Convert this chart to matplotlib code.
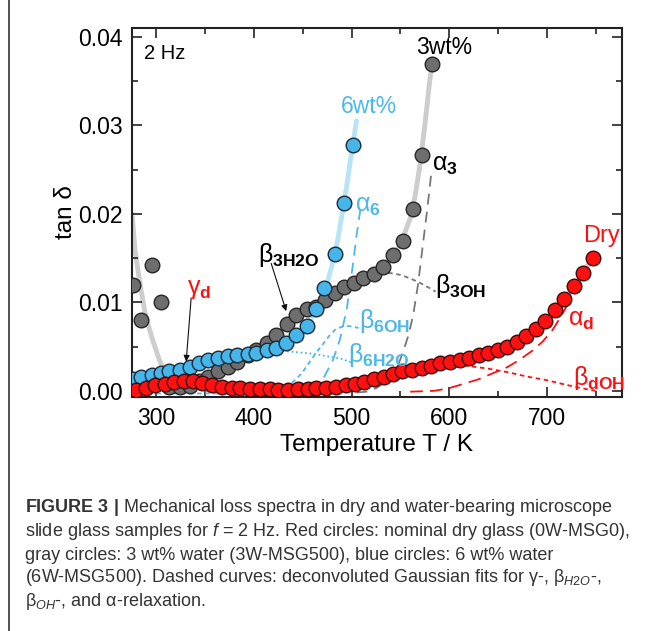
import matplotlib
matplotlib.use('Agg')
import matplotlib.pyplot as plt

plt.rcParams['font.family'] = ['Liberation Sans', 'DejaVu Sans']
plt.rcParams['mathtext.fontset'] = 'custom'
plt.rcParams['mathtext.rm'] = 'Liberation Sans'
plt.rcParams['mathtext.it'] = 'Liberation Sans:italic'
plt.rcParams['mathtext.bf'] = 'Liberation Sans:bold'

# ---- measured points (tan delta) ----
T_dry = [279, 289, 299, 309, 318, 328, 338, 347, 357, 367, 377, 386, 396, 406,
         416, 425, 435, 445, 455, 464, 474, 484, 494, 503, 513, 523, 533, 542,
         552, 562, 572, 581, 591, 601, 611, 620, 630, 640, 650, 659, 669, 679,
         689, 698, 708, 718, 728, 737, 747]
tan_dry = [0.0001, 0.0003, 0.0006, 0.0008, 0.0010, 0.0011, 0.0011, 0.0009,
           0.0006, 0.00045, 0.00035, 0.0003, 0.00025, 0.0002, 0.00015, 0.0001,
           0.0001, 0.00015, 0.0002, 0.0003, 0.0003, 0.0004, 0.0006, 0.0008,
           0.0010, 0.0013, 0.0016, 0.0019, 0.0022, 0.0024, 0.0026, 0.0028,
           0.0031, 0.0033, 0.0035, 0.0037, 0.0040, 0.0043, 0.0046, 0.0050,
           0.0055, 0.0062, 0.0070, 0.0079, 0.0091, 0.0104, 0.0118, 0.0133,
           0.0150]

T_3w = [276, 284, 295, 305, 313, 324, 334, 344, 353, 363, 373, 383, 394, 402,
        413, 423, 434, 443, 454, 464, 473, 483, 492, 502, 512, 523, 532, 542,
        553, 563, 572, 582]
tan_3w = [0.0120, 0.0080, 0.0142, 0.0100, 0.0004, 0.0004, 0.0005, 0.0011,
          0.0016, 0.0022, 0.0027, 0.0033, 0.0041, 0.0046, 0.0054, 0.0063,
          0.0075, 0.0086, 0.0093, 0.0095, 0.0103, 0.0110, 0.0117, 0.0122,
          0.0127, 0.0132, 0.0140, 0.0154, 0.0169, 0.0206, 0.0267, 0.0369]

T_6w = [276, 284, 295, 305, 313, 324, 334, 344, 353, 363, 373, 383, 394, 402,
        413, 423, 433, 443, 454, 464, 472, 483, 492, 501]
tan_6w = [0.0013, 0.0016, 0.0018, 0.0020, 0.0022, 0.0024, 0.0027, 0.0031,
          0.0035, 0.0037, 0.0039, 0.0041, 0.0042, 0.0043, 0.0046, 0.0048,
          0.0054, 0.0063, 0.0073, 0.0093, 0.0116, 0.0155, 0.0212, 0.0278]

# ---- total fit curves ----
T_fit3 = [275, 278, 283, 289, 296, 303, 308, 313, 320, 330, 340, 350, 360,
          370, 380, 390, 400, 410, 420, 430, 440, 450, 460, 470, 480, 490,
          500, 510, 520, 530, 540, 550, 560, 565, 570, 575, 580, 583]
tan_fit3 = [0.0200, 0.0160, 0.0122, 0.0084, 0.0058, 0.0035, 0.0022, 0.0012,
            0.0007, 0.0006, 0.0009, 0.0015, 0.0020, 0.0025, 0.0031, 0.0038,
            0.0045, 0.0053, 0.0062, 0.0071, 0.0081, 0.0089, 0.0096, 0.0102,
            0.0108, 0.0115, 0.0121, 0.0126, 0.0131, 0.0138, 0.0150, 0.0165,
            0.0195, 0.0220, 0.0255, 0.0300, 0.0350, 0.0375]

T_fit6 = [275, 280, 290, 300, 310, 320, 330, 340, 350, 360, 370, 380, 390,
          400, 410, 420, 430, 440, 450, 455, 460, 465, 470, 475, 480, 485,
          490, 495, 500, 505]
tan_fit6 = [0.0013, 0.0015, 0.0017, 0.0019, 0.0021, 0.0023, 0.0026, 0.0030,
            0.0034, 0.0036, 0.0038, 0.0040, 0.0041, 0.0043, 0.0045, 0.0048,
            0.0053, 0.0060, 0.0069, 0.0076, 0.0084, 0.0094, 0.0106, 0.0122,
            0.0142, 0.0166, 0.0198, 0.0232, 0.0270, 0.0305]

# ---- deconvoluted components ----
T_a3 = [505, 515, 525, 534, 542, 548, 553, 558, 563, 568, 573, 578, 582]
tan_a3 = [-0.0002, -0.0001, 0.0003, 0.0009, 0.0018, 0.0030, 0.0045, 0.0062,
          0.0085, 0.0120, 0.0165, 0.0210, 0.0250]
T_b3oh = [521, 530, 540, 550, 560, 570, 580, 586]
tan_b3oh = [0.0131, 0.0133, 0.0133, 0.0131, 0.0127, 0.0122, 0.0116, 0.0112]

T_a6 = [440, 453, 464, 472, 481, 488, 495, 501, 505, 509]
tan_a6 = [-0.0002, 0.0000, 0.0005, 0.0016, 0.0035, 0.0058, 0.0092, 0.0140,
          0.0175, 0.0205]
T_b6oh = [275, 300, 350, 400, 420, 428, 435, 442, 449, 456, 463, 470, 477,
          484, 492, 500, 507]
tan_b6oh = [-0.0003, -0.0003, -0.0003, -0.0003, -0.0002, 0.0001, 0.0006,
            0.0012, 0.0020, 0.0031, 0.0042, 0.0052, 0.0062, 0.0070, 0.0073,
            0.0073, 0.0071]
T_b6h2o = [420, 430, 440, 450, 460, 470, 480, 490, 500]
tan_b6h2o = [0.0045, 0.0045, 0.0044, 0.0043, 0.0042, 0.0040, 0.0038, 0.0036,
             0.0032]

T_gd = [275, 290, 310, 330, 350, 370, 385]
tan_gd = [0.0000, 0.0000, 0.0000, 0.0000, 0.0000, 0.0000, 0.0000]
T_ad = [560, 585, 600, 615, 630, 645, 660, 672, 686, 696, 706, 715, 725]
tan_ad = [-0.0001, 0.0000, 0.0003, 0.0008, 0.0013, 0.0020, 0.0027, 0.0035,
          0.0046, 0.0056, 0.0069, 0.0085, 0.0105]
T_bdoh = [590, 600, 620, 640, 660, 680, 700, 715, 727, 740, 750]
tan_bdoh = [0.0030, 0.0030, 0.0028, 0.0025, 0.0021, 0.0016, 0.0012, 0.0008,
            0.0005, 0.0002, 0.0000]

RED, GRAY, BLUE = '#ff1010', '#6e6e6e', '#45b5ea'
LBLUE = '#4cb8ea'

fig = plt.figure(figsize=(6.57, 6.31), dpi=100)
ax = fig.add_axes([132/657, 1-397/631, 490/657, 369/631])

# fit lines
ax.plot(T_fit3, tan_fit3, color='#cdcdcd', lw=3.5, zorder=1, solid_capstyle='round')
ax.plot(T_fit6, tan_fit6, color='#b8e4f7', lw=3.5, zorder=1, solid_capstyle='round')
ax.plot(T_dry, tan_dry, color='#f7b9b9', lw=3.5, zorder=1)

# components
ax.plot(T_a3, tan_a3, color='#777777', lw=1.3, ls=(0, (6, 4)), zorder=2)
ax.plot(T_b3oh, tan_b3oh, color='#777777', lw=1.3, ls=(0, (2.5, 2)), zorder=2)
ax.plot(T_a6, tan_a6, color=LBLUE, lw=1.3, ls=(0, (6, 4)), zorder=2)
ax.plot(T_b6oh, tan_b6oh, color=LBLUE, lw=1.3, ls=(0, (2.5, 2)), zorder=2)
ax.plot(T_b6h2o, tan_b6h2o, color=LBLUE, lw=1.3, ls=(0, (1, 1.5)), zorder=2)
ax.plot(T_gd, tan_gd, color='#c04a78', lw=1.3, ls=(0, (6, 4)), alpha=0.7, zorder=2)
ax.plot(T_ad, tan_ad, color=RED, lw=1.3, ls=(0, (7, 4)), zorder=2)
ax.plot(T_bdoh, tan_bdoh, color=RED, lw=1.3, ls=(0, (2.5, 2)), zorder=2)

# data
mk = dict(ls='none', marker='o', ms=10.5, mew=1.0, zorder=3)
ax.plot(T_3w, tan_3w, mfc=GRAY, mec='#262626', **mk)
ax.plot(T_6w, tan_6w, mfc=BLUE, mec='#1c2a36', **mk)
ax.plot(T_dry, tan_dry, mfc=RED, mec='#3a0a0a', **mk)

ax.set_xlim(275, 777)
ax.set_ylim(-0.0007, 0.041)
ax.set_xticks([300, 400, 500, 600, 700])
ax.set_xticks([350, 450, 550, 650, 750], minor=True)
ax.set_yticks([0.00, 0.01, 0.02, 0.03, 0.04])
ax.set_yticks([0.005, 0.015, 0.025, 0.035], minor=True)
ax.set_yticklabels(['0.00', '0.01', '0.02', '0.03', '0.04'])
ax.tick_params(which='both', direction='in', top=True, right=True, width=1.2,
               labelsize=16.5, color='#222222')
ax.tick_params(which='major', length=7, pad=7)
ax.tick_params(which='minor', length=4.5)
for s in ax.spines.values():
    s.set_linewidth(1.5)
    s.set_color('#222222')

ax.set_xlabel('Temperature T / K', fontsize=17.5, labelpad=3)
ax.set_ylabel('tan δ', fontsize=17.5)
ax.yaxis.set_label_coords(-0.112, 0.5)

# annotations
ax.text(287.7, 0.0381, '2 Hz', fontsize=14.5, va='center', ha='left')
ax.text(594.4, 0.03876, '3wt%', fontsize=16.5, va='center', ha='center')
ax.text(517.4, 0.0321, '6wt%', fontsize=16.5, va='center', ha='center', color=LBLUE)
ax.text(737, 0.0175, 'Dry', fontsize=17, va='center', ha='left', color=RED)

ax.text(582, 0.0255, r'$\mathrm{\alpha}_{\mathbf{3}}$', fontsize=18, va='center', ha='left')
ax.text(503, 0.0209, r'$\mathrm{\alpha}_{\mathbf{6}}$', fontsize=18, va='center', ha='left', color=LBLUE)
ax.text(721.5, 0.0080, r'$\mathrm{\alpha}_{\mathbf{d}}$', fontsize=18, va='center', ha='left', color=RED)
ax.text(403.6, 0.0153, r'$\mathrm{\beta}_{\mathbf{3H2O}}$', fontsize=18, va='center', ha='left')
ax.text(585, 0.0119, r'$\mathrm{\beta}_{\mathbf{3OH}}$', fontsize=18, va='center', ha='left')
ax.text(508, 0.0079, r'$\mathrm{\beta}_{\mathbf{6OH}}$', fontsize=18, va='center', ha='left', color=LBLUE)
ax.text(496, 0.0041, r'$\mathrm{\beta}_{\mathbf{6H2O}}$', fontsize=18, va='center', ha='left', color=LBLUE)
ax.text(726.7, 0.0015, r'$\mathrm{\beta}_{\mathbf{dOH}}$', fontsize=18, va='center', ha='left', color=RED)
ax.text(331, 0.0115, r'$\mathrm{\gamma}_{\mathbf{d}}$', fontsize=18, va='center', ha='left', color=RED)

arr = dict(arrowstyle='-|>', color='#111111', lw=0.8, mutation_scale=9,
           shrinkA=0, shrinkB=0)
ax.annotate('', xy=(433, 0.0090), xytext=(417.6, 0.0144), arrowprops=arr)
ax.annotate('', xy=(330.5, 0.0033), xytext=(335.6, 0.0105), arrowprops=arr)

# figure frame (left rule) and caption
fig.add_artist(plt.Line2D([9/657, 9/657], [0, 1], color='#333333', lw=1.2))
caption = [
    r'$\mathbf{FIGURE\ 3\ |}$ Mechanical loss spectra in dry and water-bearing microscope',
    r'slide glass samples for $\mathit{f}$ = 2 Hz. Red circles: nominal dry glass (0W-MSG0),',
    'gray circles: 3 wt% water (3W-MSG500), blue circles: 6 wt% water',
    r'(6W-MSG500). Dashed curves: deconvoluted Gaussian fits for γ-, $\mathrm{\beta}_{\mathit{H2O}}$-,',
    r'$\mathrm{\beta}_{\mathit{OH}}$-, and α-relaxation.',
]
ys = [507, 532, 555, 578, 602]
for line, y in zip(caption, ys):
    fig.text(25/657, 1 - y/631, line, fontsize=13, color='#333333',
             va='center', ha='left')

fig.savefig('out.png', dpi=100, facecolor='white')
